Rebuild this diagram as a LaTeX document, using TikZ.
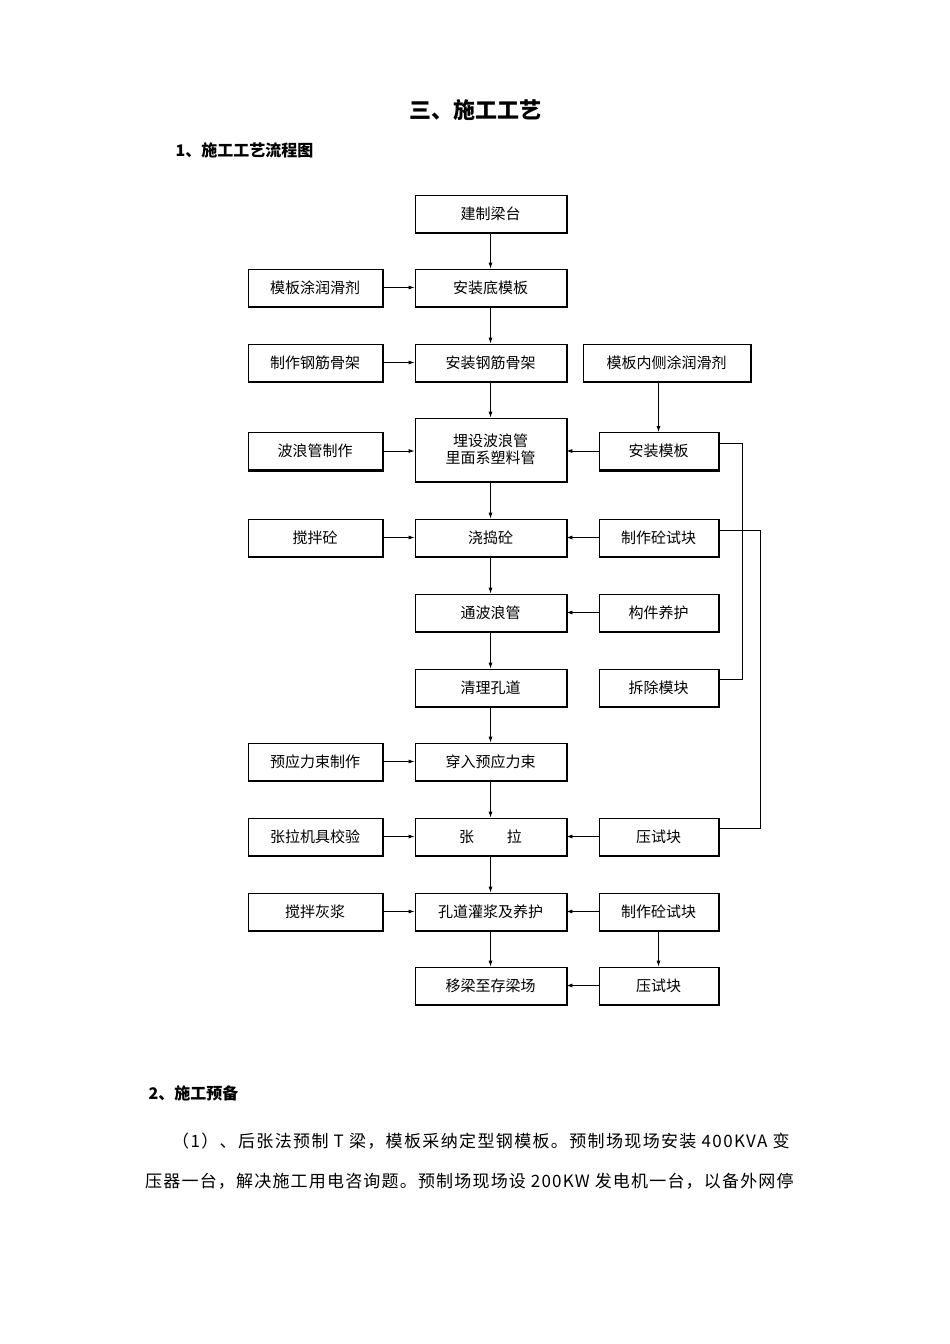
\documentclass[tikz,border=0pt]{standalone}
\usepackage{fontspec}
\setmainfont{Liberation Serif}
\newfontfamily\cjk{Noto Sans CJK SC}
\usetikzlibrary{arrows.meta}
\tikzset{
 bx/.style={draw, line width=0.8pt, minimum height=37pt, font=\cjk\fontsize{15}{17}\selectfont, inner sep=2pt, align=center},
 cbox/.style={bx, minimum width=151pt},
 lbox/.style={bx, minimum width=134pt},
 rbox/.style={bx, minimum width=119pt},
 ar/.style={-{Latex[length=6pt,width=4pt]}, line width=0.8pt},
 ln/.style={line width=0.8pt},
 sh/.style={line width=1.6pt}
}
\newcommand{\shadowline}[1]{\draw[sh] ([xshift=0.8pt]#1.north east) -- ([xshift=0.8pt,yshift=-0.8pt]#1.south east) -- ([yshift=-0.8pt]#1.south west);}
\begin{document}
\begin{tikzpicture}[x=1pt,y=-1pt]
\useasboundingbox[fill=white] (0,0) rectangle (950,1344);
\node[font=\cjk\bfseries\fontsize{22}{24}\selectfont] (t) at (475,110) {三、施工工艺};
\node[font=\cjk\bfseries\fontsize{16}{18}\selectfont, anchor=west] (t1) at (172,150) {1、施工工艺流程图};
% center
\node[cbox] (c1) at (490.5,213.5) {建制梁台};
\node[cbox] (c2) at (490.5,287.5) {安装底模板};
\node[cbox] (c3) at (490.5,362.5) {安装钢筋骨架};
\node[cbox, minimum height=63pt] (c4) at (490.5,449.5) {埋设波浪管\\里面系塑料管};
\node[cbox] (c5) at (490.5,537.5) {浇捣砼};
\node[cbox] (c6) at (490.5,612.5) {通波浪管};
\node[cbox] (c7) at (490.5,687.5) {清理孔道};
\node[cbox] (c8) at (490.5,761.5) {穿入预应力束};
\node[cbox] (c9) at (490.5,836.5) {张\hspace{2.2em}拉};
\node[cbox] (c10) at (490.5,911.5) {孔道灌浆及养护};
\node[cbox] (c11) at (490.5,985.5) {移梁至存梁场};
% left
\node[lbox] (l2) at (315,287.5) {模板涂润滑剂};
\node[lbox] (l3) at (315,362.5) {制作钢筋骨架};
\node[lbox] (l4) at (315,451) {波浪管制作};
\node[lbox] (l5) at (315,537.5) {搅拌砼};
\node[lbox] (l8) at (315,761.5) {预应力束制作};
\node[lbox] (l9) at (315,836.5) {张拉机具校验};
\node[lbox] (l10) at (315,911.5) {搅拌灰浆};
% right
\node[bx, minimum width=167pt] (r3) at (666.5,362.5) {模板内侧涂润滑剂};
\node[rbox] (r4) at (658.5,451) {安装模板};
\node[rbox] (r5) at (658.5,537.5) {制作砼试块};
\node[rbox] (r6) at (658.5,612.5) {构件养护};
\node[rbox] (r7) at (658.5,687.5) {拆除模块};
\node[rbox] (r9) at (658.5,836.5) {压试块};
\node[rbox] (r10) at (658.5,911.5) {制作砼试块};
\node[rbox] (r11) at (658.5,985.5) {压试块};
\foreach \n in {c1,c2,c3,c4,c5,c6,c7,c8,c9,c10,c11,l2,l3,l4,l5,l8,l9,l10,r3,r4,r5,r6,r7,r9,r10,r11} {\shadowline{\n}}
% vertical arrows
\foreach \a/\b in {c1/c2,c2/c3,c3/c4,c4/c5,c5/c6,c6/c7,c7/c8,c8/c9,c9/c10,c10/c11} {\draw[ar] (\a) -- (\b);}
\draw[ar] (r4 |- r3.south) -- (r4);
\draw[ar] (r10) -- (r11);
% left to center
\foreach \a/\b in {l2/c2,l3/c3,l4/c4,l5/c5,l8/c8,l9/c9,l10/c10} {\draw[ar] (\a) -- (\a -| \b.west);}
% right to center
\foreach \a/\b in {r4/c4,r5/c5,r6/c6,r9/c9,r10/c10,r11/c11} {\draw[ar] (\a) -- (\a -| \b.east);}
% side connectors
\coordinate (k1) at (742,443);
\coordinate (k2) at (760,530);
\draw[ln] (r4.east |- k1) -- (k1) -- (k1 |- 0,679) -- (r7.east |- 0,679);
\draw[ln] (r5.east |- k2) -- (k2) -- (k2 |- 0,828) -- (r9.east |- 0,828);
% text below
\node[font=\cjk\bfseries\fontsize{16}{18}\selectfont, anchor=west] (t2) at (145,1093) {2、施工预备};
\node[font=\cjk\fontsize{17}{19}\selectfont\addfontfeature{LetterSpace=8}, anchor=west, inner sep=0pt] (p1) at (172,1141) {（1）、后张法预制 T 梁，模板采纳定型钢模板。预制场现场安装 400KVA 变};
\node[font=\cjk\fontsize{17}{19}\selectfont\addfontfeature{LetterSpace=7}, anchor=west, inner sep=0pt] (p2) at (145,1181) {压器一台，解决施工用电咨询题。预制场现场设 200KW 发电机一台，以备外网停};
\end{tikzpicture}
\end{document}
